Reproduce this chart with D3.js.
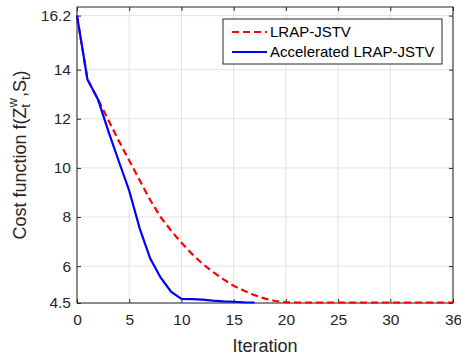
<!DOCTYPE html>
<html>
<head>
<meta charset="utf-8">
<script src="https://cdnjs.cloudflare.com/ajax/libs/d3/7.8.5/d3.min.js"></script>
<style>
  body { margin: 0; background: #fff; }
  text { font-family: "Liberation Sans", Arial, Helvetica, sans-serif; }
</style>
</head>
<body>
<div id="chart"></div>
<script>
// data
var iterations = d3.range(0, 37);
var lrapJstv = [16.2, 13.6, 12.8, 11.95, 11.1, 10.3, 9.5, 8.7, 8.0, 7.45, 6.95, 6.5, 6.1, 5.77, 5.47, 5.2, 5.0, 4.82, 4.68, 4.58, 4.53,
                4.52, 4.52, 4.52, 4.52, 4.52, 4.52, 4.52, 4.52, 4.52, 4.52, 4.52, 4.52, 4.52, 4.52, 4.52, 4.52];
var accelerated = [16.2, 13.6, 12.8, 11.5, 10.27, 9.07, 7.54, 6.32, 5.54, 4.96, 4.67, 4.66, 4.64, 4.6, 4.57, 4.55, 4.53, 4.52];
var xTicks = [0, 5, 10, 15, 20, 25, 30, 36];
var yTicks = [4.5, 6, 8, 10, 12, 14, 16.2];
var seriesNames = ["LRAP-JSTV", "Accelerated LRAP-JSTV"];

var W = 461, H = 358;
var margin = {top: 7, right: 8, bottom: 55, left: 77},
    width = W - margin.left - margin.right,
    height = H - margin.top - margin.bottom;

var svg = d3.select("#chart").append("svg")
    .attr("width", W)
    .attr("height", H);

var g = svg.append("g")
    .attr("transform", "translate(" + margin.left + "," + margin.top + ")");

var x = d3.scaleLinear().domain([0, 36]).range([0, width]);
var y = d3.scaleLinear().domain([4.5, 16.55]).range([height, 0]);

// grid
g.append("g")
    .selectAll("line.gx")
    .data(xTicks)
    .enter().append("line")
    .attr("x1", d => x(d)).attr("x2", d => x(d))
    .attr("y1", 0).attr("y2", height)
    .style("stroke", "#e3e3e3").style("stroke-width", 1);
g.append("g")
    .selectAll("line.gy")
    .data(yTicks)
    .enter().append("line")
    .attr("x1", 0).attr("x2", width)
    .attr("y1", d => y(d)).attr("y2", d => y(d))
    .style("stroke", "#e3e3e3").style("stroke-width", 1);

// axes, ticks pointing inwards
var axisColor = "#262626";
var xAxis = g.append("g")
    .attr("transform", "translate(0," + height + ")")
    .call(d3.axisBottom(x).tickValues(xTicks).tickSizeInner(-4).tickSizeOuter(0).tickPadding(11).tickFormat(d3.format("d")));
var xTop = g.append("g")
    .call(d3.axisTop(x).tickValues(xTicks).tickSizeInner(-4).tickSizeOuter(0).tickFormat(""));
var yAxis = g.append("g")
    .call(d3.axisLeft(y).tickValues(yTicks).tickSizeInner(-4).tickSizeOuter(0).tickPadding(6).tickFormat(d => d));
var yRight = g.append("g")
    .attr("transform", "translate(" + width + ",0)")
    .call(d3.axisRight(y).tickValues(yTicks).tickSizeInner(-4).tickSizeOuter(0).tickFormat(""));

[xAxis, xTop, yAxis, yRight].forEach(function(a) {
    a.select(".domain").remove();
    a.selectAll("line").style("stroke", axisColor);
    a.selectAll("text").style("font-size", "15.5px").style("fill", axisColor);
});

g.append("rect")
    .attr("width", width).attr("height", height)
    .style("fill", "none").style("stroke", axisColor).style("stroke-width", 1);

// lines (blue on top)
var line = d3.line()
    .x((d, i) => x(iterations[i]))
    .y(d => y(d));

g.append("path")
    .datum(lrapJstv)
    .attr("d", line)
    .style("fill", "none").style("stroke", "#ff0000").style("stroke-width", 2.2)
    .style("stroke-dasharray", "7,4");

g.append("path")
    .datum(accelerated)
    .attr("d", line)
    .style("fill", "none").style("stroke", "#0000ff").style("stroke-width", 2.2);

// axis labels
svg.append("text")
    .attr("x", margin.left + width / 2)
    .attr("y", 352)
    .attr("text-anchor", "middle")
    .style("font-size", "18px").style("fill", axisColor)
    .text("Iteration");

var yl = svg.append("text")
    .attr("transform", "translate(26," + (margin.top + height / 2) + ") rotate(-90)")
    .attr("text-anchor", "middle")
    .style("font-size", "18px").style("fill", axisColor);
yl.append("tspan").text("Cost function f(Z");
yl.append("tspan").attr("dy", -9).style("font-size", "13px").text("w");
yl.append("tspan").attr("dx", -9.5).attr("dy", 13).style("font-size", "13px").text("t");
yl.append("tspan").attr("dx", 7).attr("dy", -4).text(",S");
yl.append("tspan").attr("dy", 4).style("font-size", "13px").text("t");
yl.append("tspan").attr("dy", -4).text(")");

// legend
var legend = svg.append("g").attr("transform", "translate(223,19)");
legend.append("rect")
    .attr("width", 219).attr("height", 45)
    .style("fill", "#fff").style("stroke", axisColor).style("stroke-width", 1);

var legendItems = legend.selectAll("g.item")
    .data(seriesNames)
    .enter().append("g")
    .attr("transform", (d, i) => "translate(0," + (13 + i * 20) + ")");

legendItems.append("line")
    .attr("x1", 9).attr("x2", 44)
    .style("stroke", (d, i) => i == 0 ? "#ff0000" : "#0000ff")
    .style("stroke-width", 2.2)
    .style("stroke-dasharray", (d, i) => i == 0 ? "7,4" : null);

legendItems.append("text")
    .attr("x", 47).attr("dy", "0.35em")
    .style("font-size", "15px").style("fill", "#000")
    .text(d => d);
</script>
</body>
</html>
